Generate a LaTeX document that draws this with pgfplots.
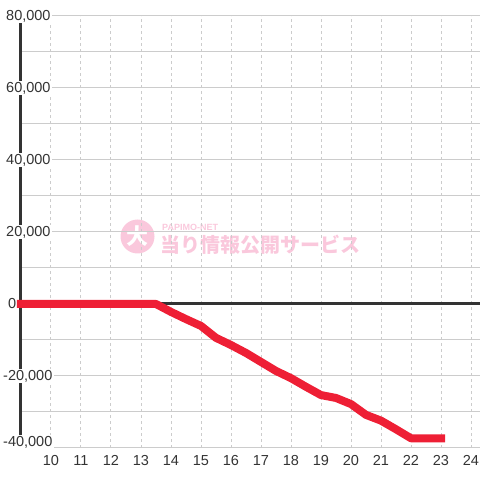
\documentclass[border=0pt]{standalone}
\usepackage{fontspec}
\setmainfont{Liberation Sans}
\newfontfamily\cjk{Noto Sans CJK JP}
\usepackage{pgfplots}
\pgfplotsset{compat=1.18}
\definecolor{txt}{HTML}{333333}
\definecolor{gridc}{HTML}{CCCCCC}
\definecolor{redl}{HTML}{EE1F35}
\definecolor{wm}{HTML}{FAC8DC}
\def\fortyk{-40,000}
\begin{document}
\begin{tikzpicture}[x=1pt,y=1pt]
\useasboundingbox (-21,-32) rectangle (459,448);
% watermark
\fill[wm] (116.5,211.5) circle (17);
\node[text=white, font=\cjk\bfseries\fontsize{22}{22}\selectfont, inner sep=0pt] at (116.5,211.5) {大};
\node[text=wm, font=\cjk\bfseries\fontsize{20}{20}\selectfont, anchor=west, inner sep=0pt] at (139,203) {当り情報公開サービス};
\node[text=wm, font=\bfseries\fontsize{9}{9}\selectfont, anchor=west, inner sep=0pt] at (141,221) {PAPIMO-NET};
\begin{axis}[
  at={(0,0)}, anchor=south west,
  scale only axis, width=459pt, height=432pt,
  xmin=9, xmax=24.3, ymin=-40000, ymax=80000,
  scaled y ticks=false,
  /pgf/number format/assume math mode=true,
  axis x line=bottom, axis y line=left,
  x axis line style={draw=gridc, line width=1pt, -},
  y axis line style={draw=txt, line width=3pt, -},
  xtick={10,...,24},
  ytick={-20000,0,20000,40000,60000,80000},
  yticklabels={{-20,000},{\hspace{5pt}0},{\hspace{3pt}20,000},{\hspace{3pt}40,000},{\hspace{3pt}60,000},{\hspace{3pt}80,000}},
  extra y ticks={-40000},
  extra y tick labels={\fortyk},
  extra y tick style={yticklabel style={yshift=6pt}},
  minor ytick={-30000,-10000,10000,30000,50000,70000},
  major tick length=0pt, minor tick length=0pt,
  xmajorgrids, ymajorgrids, yminorgrids,
  major x grid style={draw=gridc, dash pattern=on 3pt off 3pt, line width=1pt},
  y grid style={draw=gridc, line width=1pt},
  tick label style={font=\fontsize{14.5}{17}\selectfont, text=txt},
  xticklabel style={inner sep=0pt, yshift=-7pt, anchor=north},
  yticklabel style={anchor=west, xshift=-19.5pt, fill=white, inner sep=1.5pt},
  clip=false,
]
\addplot[draw=txt, line width=3pt] coordinates {(9,0) (24.3,0)};
\addplot[draw=redl, line width=8pt, line cap=rect, line join=round] coordinates {
(9,0) (13.5,0) (14,-2200) (14.5,-4200) (15,-6100) (15.5,-9400) (16,-11400)
(16.5,-13600) (17,-16100) (17.5,-18600) (18,-20600) (18.5,-23000) (19,-25300)
(19.5,-26100) (20,-27800) (20.5,-30800) (21,-32400) (21.5,-34800) (22,-37300) (23,-37300)
};
\end{axis}
\end{tikzpicture}
\end{document}
